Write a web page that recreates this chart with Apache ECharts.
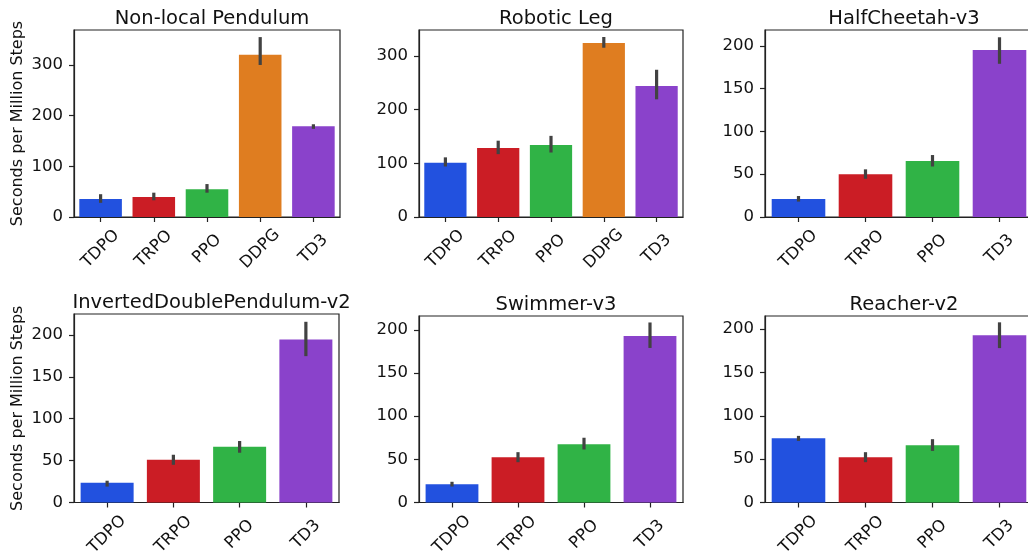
<!DOCTYPE html>
<html>
<head>
<meta charset="utf-8">
<style>
  html, body { margin: 0; padding: 0; background: #ffffff; }
  #chart { width: 1028px; height: 552px; }
</style>
<script src="https://cdn.jsdelivr.net/npm/echarts@6/dist/echarts.min.js"></script>
</head>
<body>
<div id="chart"></div>
<script>
// Algorithms on the x axis
const categoriesFive = ['TDPO', 'TRPO', 'PPO', 'DDPG', 'TD3'];
const categoriesFour = ['TDPO', 'TRPO', 'PPO', 'TD3'];

// Tick labels for the value axes
const ticksHundreds = [0, 100, 200, 300];
const ticksFifties = [0, 50, 100, 150, 200];

// Panel titles
const panelTitles = ['Non-local Pendulum', 'Robotic Leg', 'HalfCheetah-v3',
  'InvertedDoublePendulum-v2', 'Swimmer-v3', 'Reacher-v2'];

// Seconds per million steps: mean, and the low / high ends of the error bar
const pendulumMean = [35.5, 39.5, 55, 320, 179];
const pendulumLow = [28, 33, 48, 300, 174];
const pendulumHigh = [45, 48, 65, 355, 183];

const legMean = [101, 128.5, 134, 324, 244];
const legLow = [94, 117, 120, 315, 219];
const legHigh = [111, 142, 151, 335, 274];

const cheetahMean = [21, 50, 65.4, 195];
const cheetahLow = [18, 44.7, 59, 179];
const cheetahHigh = [24.5, 55.7, 72.4, 210];

const doublePendulumMean = [23.5, 51, 66.6, 194.6];
const doublePendulumLow = [19, 45, 59.4, 174.7];
const doublePendulumHigh = [26, 57, 73.4, 215.7];

const swimmerMean = [21.2, 52.5, 67.6, 192.7];
const swimmerLow = [18.5, 46.7, 61.4, 179];
const swimmerHigh = [24, 58.3, 75, 208.5];

const reacherMean = [74, 52.2, 66, 192.7];
const reacherLow = [71, 46.5, 59.5, 178];
const reacherHigh = [76.8, 58, 73, 207.7];

// Colour per algorithm
const algoColors = {
  TDPO: '#2251df',
  TRPO: '#cb1d25',
  PPO: '#30b346',
  DDPG: '#df7d20',
  TD3: '#8a42cb'
};

const FONT = 'DejaVu Sans';
const INK = '#222222';

const panels = [
  { cats: categoriesFive, mean: pendulumMean, low: pendulumLow, high: pendulumHigh,
    max: 369, ticks: ticksHundreds, grid: { left: 74, top: 30, width: 266, height: 187 }, ylabel: true },
  { cats: categoriesFive, mean: legMean, low: legLow, high: legHigh,
    max: 348, ticks: ticksHundreds, grid: { left: 419, top: 30, width: 264, height: 187 }, ylabel: false },
  { cats: categoriesFour, mean: cheetahMean, low: cheetahLow, high: cheetahHigh,
    max: 218.5, ticks: ticksFifties, grid: { left: 765, top: 30, width: 268, height: 187 }, ylabel: false },
  { cats: categoriesFour, mean: doublePendulumMean, low: doublePendulumLow, high: doublePendulumHigh,
    max: 225, ticks: ticksFifties, grid: { left: 74, top: 314, width: 265, height: 188.5 }, ylabel: true },
  { cats: categoriesFour, mean: swimmerMean, low: swimmerLow, high: swimmerHigh,
    max: 216, ticks: ticksFifties, grid: { left: 419, top: 316, width: 264, height: 186.5 }, ylabel: false },
  { cats: categoriesFour, mean: reacherMean, low: reacherLow, high: reacherHigh,
    max: 215, ticks: ticksFifties, grid: { left: 765, top: 316, width: 268, height: 186.5 }, ylabel: false }
];

const grids = [], xAxes = [], yAxes = [], series = [], titles = [];

panels.forEach((p, k) => {
  grids.push(Object.assign({
    show: true, borderColor: INK, borderWidth: 1.2, backgroundColor: 'transparent',
    containLabel: false, outerBoundsMode: 'none'
  }, p.grid));

  titles.push({
    text: panelTitles[k],
    left: p.grid.left + p.grid.width / 2,
    top: p.grid.top - 26,
    textAlign: 'center',
    textStyle: { fontFamily: FONT, fontSize: 19.5, fontWeight: 'normal', color: '#111' }
  });

  xAxes.push({
    type: 'category', gridIndex: k, data: p.cats,
    axisLine: { show: true, lineStyle: { color: INK, width: 1.2 } },
    axisTick: { show: true, alignWithLabel: true, length: 5, lineStyle: { color: INK, width: 1.2 } },
    axisLabel: {
      rotate: 45, align: 'center', verticalAlign: 'middle', margin: 32,
      fontFamily: FONT, fontSize: 16.5, color: '#111'
    },
    splitLine: { show: false }
  });

  yAxes.push({
    type: 'value', gridIndex: k, min: 0, max: p.max,
    name: p.ylabel ? 'Seconds per Million Steps' : '',
    nameLocation: 'middle', nameGap: 48, nameRotate: 90,
    nameTextStyle: { fontFamily: FONT, fontSize: 16, color: '#111' },
    axisLine: { show: true, lineStyle: { color: INK, width: 1.2 } },
    axisTick: { show: true, length: 5, customValues: p.ticks, lineStyle: { color: INK, width: 1.2 } },
    axisLabel: { customValues: p.ticks, margin: 11, fontFamily: FONT, fontSize: 16.5, color: '#111' },
    splitLine: { show: false }
  });

  series.push({
    type: 'bar', xAxisIndex: k, yAxisIndex: k,
    barCategoryGap: '20%',
    data: p.mean.map((v, i) => ({ value: v, itemStyle: { color: algoColors[p.cats[i]] } })),
    silent: true, animation: false
  });

  series.push({
    type: 'custom', xAxisIndex: k, yAxisIndex: k, z: 5,
    data: p.low.map((lo, i) => [i, lo, p.high[i]]),
    renderItem: (params, api) => {
      const a = api.coord([api.value(0), api.value(1)]);
      const b = api.coord([api.value(0), api.value(2)]);
      return {
        type: 'line',
        shape: { x1: a[0], y1: a[1], x2: b[0], y2: b[1] },
        style: { stroke: '#424242', lineWidth: 3.2 }
      };
    },
    silent: true, animation: false
  });
});

const chart = echarts.init(document.getElementById('chart'), null, { renderer: 'canvas' });
chart.setOption({
  backgroundColor: '#ffffff',
  animation: false,
  title: titles,
  grid: grids,
  xAxis: xAxes,
  yAxis: yAxes,
  series: series
});
</script>
</body>
</html>
